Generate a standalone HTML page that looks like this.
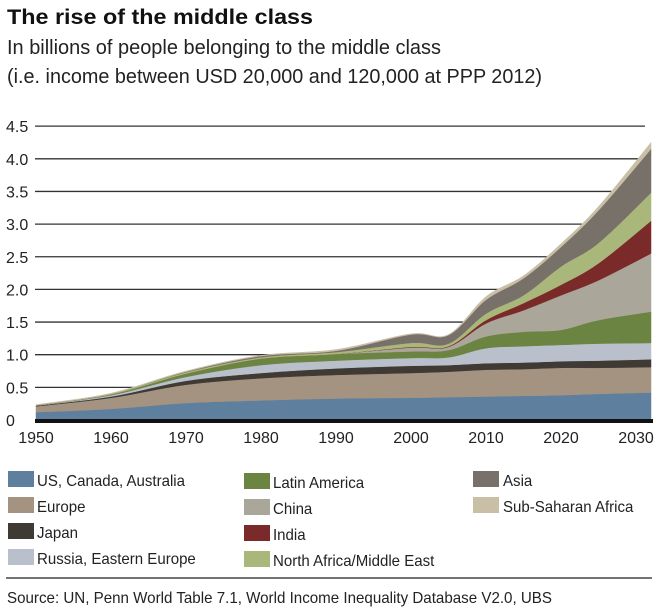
<!DOCTYPE html>
<html><head><meta charset="utf-8"><style>
html,body{margin:0;padding:0;background:#fff;}
svg{display:block;font-family:"Liberation Sans",sans-serif;}
</style></head><body>
<svg id="chart" width="658" height="613" viewBox="0 0 658 613">
<text x="7" y="24" font-size="21" font-weight="bold" fill="#111" textLength="306" lengthAdjust="spacingAndGlyphs">The rise of the middle class</text>
<text x="7" y="54" font-size="20" fill="#222" textLength="434" lengthAdjust="spacingAndGlyphs">In billions of people belonging to the middle class</text>
<text x="7" y="83" font-size="20" fill="#222" textLength="535" lengthAdjust="spacingAndGlyphs">(i.e. income between USD 20,000 and 120,000 at PPP 2012)</text>
<g id="grid"></g>
<g id="areas"></g>
<rect x="35" y="419" width="618" height="4" fill="#111"/>
<g id="yticks"></g>
<g id="xticks"></g>
<g id="legend"></g>
<line x1="6" y1="578" x2="652" y2="578" stroke="#222" stroke-width="1.2"/>
<text x="7" y="603" font-size="16" fill="#222" textLength="545" lengthAdjust="spacingAndGlyphs">Source: UN, Penn World Table 7.1, World Income Inequality Database V2.0, UBS</text>
</svg>
<script>
const years = [1950,1960,1970,1980,1990,2000,2005,2010,2015,2020,2025,2032];
const usCanadaAustralia = [0.12,0.17,0.26,0.30,0.33,0.34,0.35,0.36,0.37,0.38,0.40,0.42];
const europe = [0.09,0.17,0.28,0.34,0.36,0.38,0.39,0.41,0.41,0.42,0.40,0.39];
const japan = [0.01,0.02,0.06,0.08,0.10,0.11,0.10,0.10,0.10,0.10,0.11,0.12];
const russiaEasternEurope = [0.005,0.02,0.06,0.12,0.12,0.12,0.12,0.23,0.25,0.25,0.26,0.25];
const latinAmerica = [0,0.01,0.05,0.10,0.10,0.10,0.11,0.18,0.22,0.23,0.36,0.48];
const china = [0,0,0,0,0,0.06,0.05,0.20,0.33,0.53,0.61,0.89];
const india = [0,0,0,0,0,0.01,0.01,0.05,0.11,0.16,0.26,0.50];
const northAfricaMiddleEast = [0,0.01,0.02,0.02,0.03,0.06,0.04,0.10,0.12,0.28,0.31,0.43];
const asia = [0,0,0.01,0.02,0.02,0.13,0.13,0.21,0.26,0.30,0.50,0.67];
const subSaharanAfrica = [0.01,0.01,0.01,0.01,0.02,0.01,0.01,0.05,0.04,0.05,0.06,0.10];
const seriesNames = ["US, Canada, Australia","Europe","Japan","Russia, Eastern Europe","Latin America","China","India","North Africa/Middle East","Asia","Sub-Saharan Africa"];
const yTickLabels = ["0","0.5","1.0","1.5","2.0","2.5","3.0","3.5","4.0","4.5"];
const xTickLabels = ["1950","1960","1970","1980","1990","2000","2010","2020","2030"];

const allSeries = [usCanadaAustralia,europe,japan,russiaEasternEurope,latinAmerica,china,india,northAfricaMiddleEast,asia,subSaharanAfrica];
const colors = ["#5f7f9e","#a39380","#3f3a33","#b9c0cb","#6b8442","#aaa69a","#7a2a28","#a9b87a","#77716a","#c9bfa6"];
const slugs = ["us-canada-australia","europe","japan","russia-eastern-europe","latin-america","china","india","north-africa-middle-east","asia","sub-saharan-africa"];
const NS = "http://www.w3.org/2000/svg";
const X = y => 36 + (y - 1950) * 7.5;
const Y = v => 420 - v * 65.3;
function mk(tag, attrs, parent){const e=document.createElementNS(NS,tag);for(const k in attrs)e.setAttribute(k,attrs[k]);parent.appendChild(e);return e;}

const grid = document.getElementById('grid');
const yt = document.getElementById('yticks');
yTickLabels.forEach((lab,i)=>{
  const v = parseFloat(lab);
  if(v>0){
    const l = mk('line',{x1:35,x2:645,y1:Y(v),y2:Y(v),stroke:'#333','stroke-width':1.3},grid);
    
    
  }
  const t = mk('text',{x:6,y:Y(v)+6,'font-size':16,fill:'#222'},yt);
  t.textContent = lab;
  
  
});
const xt = document.getElementById('xticks');
xTickLabels.forEach(lab=>{
  const t = mk('text',{x:X(+lab),y:443,'font-size':16,fill:'#222','text-anchor':'middle'},xt);
  t.textContent = lab;
  
  
});

const cum = [];
let prev = years.map(()=>0);
allSeries.forEach(s=>{const c = s.map((v,i)=>prev[i]+v); cum.push(c); prev=c;});
function pts(arr){return years.map((y,i)=>[X(y),Y(arr[i])]);}
function spline(p){
  let d='';
  for(let i=0;i<p.length-1;i++){
    const p0=p[i-1]||p[i],p1=p[i],p2=p[i+1],p3=p[i+2]||p2;
    const c1=[p1[0]+(p2[0]-p0[0])/6,p1[1]+(p2[1]-p0[1])/6];
    const c2=[p2[0]-(p3[0]-p1[0])/6,p2[1]-(p3[1]-p1[1])/6];
    d+=` C${c1[0].toFixed(1)},${c1[1].toFixed(1)} ${c2[0].toFixed(1)},${c2[1].toFixed(1)} ${p2[0].toFixed(1)},${p2[1].toFixed(1)}`;
  }
  return d;
}
const areas = document.getElementById('areas');
cum.forEach((c,k)=>{
  const top = pts(c);
  const bot = k===0 ? years.map(y=>[X(y),Y(0)]) : pts(cum[k-1]);
  const br = bot.slice().reverse();
  let d = `M${top[0][0]},${top[0][1]}` + spline(top) + ` L${br[0][0]},${br[0][1]}` + spline(br) + ' Z';
  const p = mk('path',{d:d,fill:colors[k],stroke:colors[k],'stroke-width':0.5},areas);
  
  
});

const lg = document.getElementById('legend');
const cols=[[8,37],[244,273],[473,503]];
const rowsY=[471,497,523,549];
seriesNames.forEach((n,i)=>{
  const col = i<4?0:(i<8?1:2);
  const row = i<4?i:(i<8?i-4:i-8);
  const off = col===1?2:0;
  const g = mk('g',{},lg);
  
  
  const r = mk('rect',{x:cols[col][0],y:rowsY[row]+off,width:26,height:16,fill:colors[i]},g);
  
  
  const t = mk('text',{x:cols[col][1],y:rowsY[row]+off+15,'font-size':16,fill:'#222'},g);
  t.textContent=n;
  
  
  const w = t.getComputedTextLength();
  if(w>0){t.setAttribute('textLength',(w*0.94).toFixed(1));t.setAttribute('lengthAdjust','spacingAndGlyphs');}
});
</script>
</body></html>
